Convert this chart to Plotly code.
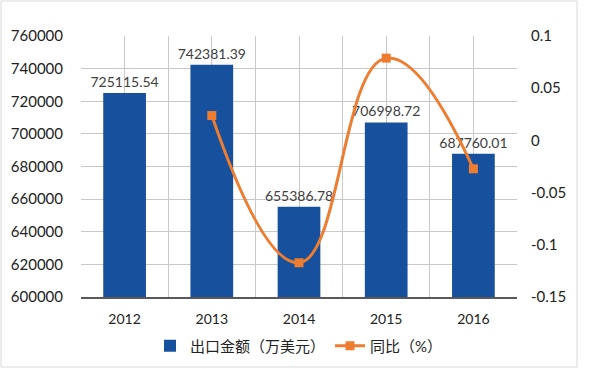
import plotly.graph_objects as go

years = ["2012", "2013", "2014", "2015", "2016"]
export_values = [725115.54, 742381.39, 655386.78, 706998.72, 687760.01]
yoy_years = ["2013", "2014", "2015", "2016"]
yoy_values = [0.0238, -0.1172, 0.0788, -0.0272]
left_ticks = [600000, 620000, 640000, 660000, 680000, 700000, 720000, 740000, 760000]
right_ticks = [-0.15, -0.1, -0.05, 0, 0.05, 0.1]
right_tick_text = ["-0.15", "-0.1", "-0.05", "0", "0.05", "0.1"]

xpos = list(range(len(years)))
yoy_pos = [years.index(y) for y in yoy_years]

font_fam = "Lato, 'Noto Sans CJK SC', sans-serif"

fig = go.Figure()
fig.add_trace(go.Bar(
    x=xpos, y=export_values, name="出口金额（万美元）",
    marker=dict(color="#17509C", line=dict(width=0)),
    width=0.49,
    text=[f"{v:.2f}" for v in export_values],
    textposition="outside", cliponaxis=False, constraintext="none",
    textfont=dict(size=14, color="#404040", family=font_fam),
))
fig.add_trace(go.Scatter(
    x=yoy_pos, y=yoy_values, name="同比（%）", yaxis="y2",
    mode="lines+markers",
    line=dict(color="#ED7D31", width=3, shape="spline", smoothing=1.3),
    marker=dict(symbol="square", size=9, color="#ED7D31"),
))

W, H = 600, 369
ml, mr, mt, mb = 81, 83, 36, 72
pw, ph = W - ml - mr, H - mt - mb

def px(xp):
    return (xp - ml) / pw

def py(yp):
    return (H - mb - yp) / ph

fig.add_shape(type="rect", xref="paper", yref="paper",
              x0=px(1), x1=px(577), y0=py(367), y1=py(1),
              line=dict(color="#D9D9D9", width=1), fillcolor="rgba(0,0,0,0)", layer="below")

fig.update_layout(
    width=W, height=H,
    margin=dict(l=ml, r=mr, t=mt, b=mb, autoexpand=False),
    paper_bgcolor="white", plot_bgcolor="white",
    font=dict(family=font_fam, color="#222222"),
    showlegend=True,
    legend=dict(orientation="h", x=0.5, xanchor="center", y=py(346), yanchor="middle",
                font=dict(size=15, color="#222222", family=font_fam),
                itemwidth=30, traceorder="normal"),
    xaxis=dict(
        range=[-0.5, 4.5], tickvals=xpos, ticktext=years,
        showgrid=True, gridcolor="#C8C8C8", gridwidth=1,
        minor=dict(tickvals=[-0.5, 0.5, 1.5, 2.5, 3.5, 4.5], showgrid=True, gridcolor="#C8C8C8", gridwidth=1),
        showline=True, linecolor="#595959", linewidth=2,
        tickfont=dict(size=14, color="#222222"), ticks="", ticklabelstandoff=8,
        zeroline=False, automargin=False,
    ),
    yaxis=dict(
        range=[600000, 760000], tickvals=left_ticks, ticktext=[str(v) for v in left_ticks],
        showgrid=True, gridcolor="#C8C8C8", gridwidth=1, zeroline=False,
        tickfont=dict(size=15, color="#222222"), ticks="", ticklabelstandoff=17,
        automargin=False,
    ),
    yaxis2=dict(
        range=[-0.15, 0.1], tickvals=right_ticks, ticktext=right_tick_text,
        overlaying="y", side="right", showgrid=False, zeroline=False,
        tickfont=dict(size=15, color="#222222"), ticks="", ticklabelstandoff=13,
        automargin=False,
    ),
)

fig.write_html("out.html", config={"displayModeBar": False},
               post_script="document.body.style.margin='0';document.body.style.overflow='hidden';")
